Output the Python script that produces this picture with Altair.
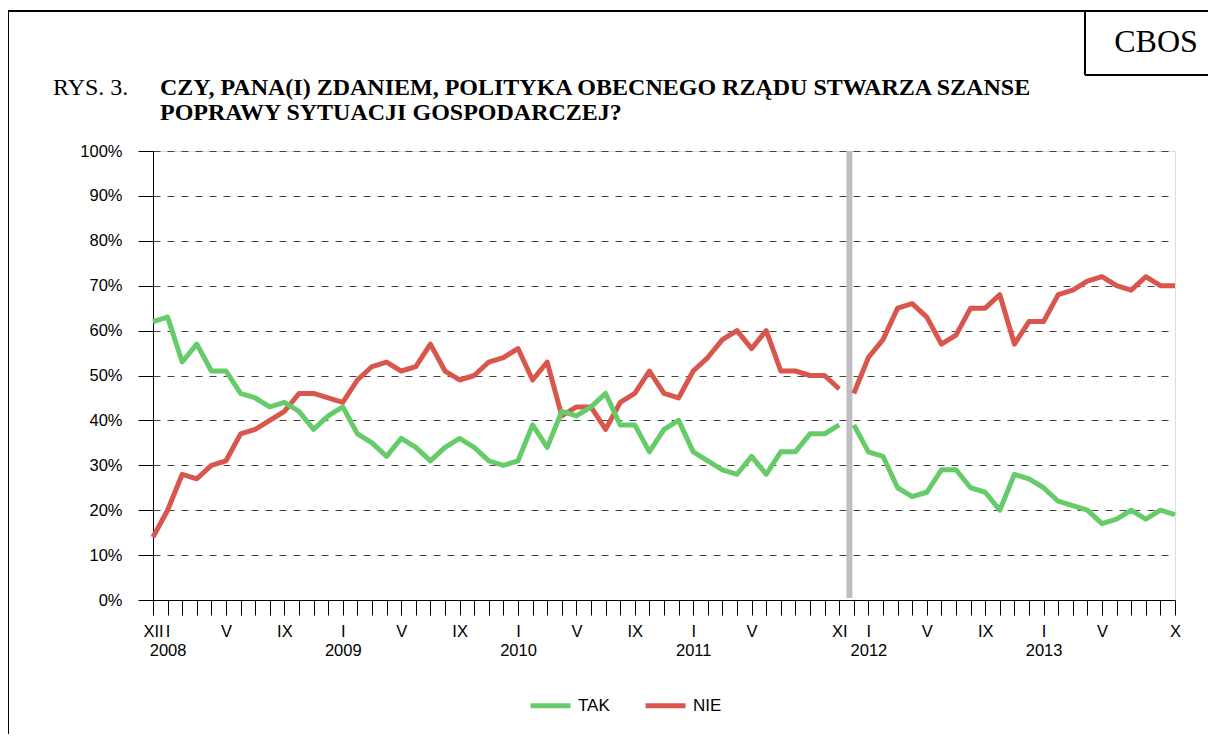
import json
import altair as alt
import pandas as pd

# ---- data ----
months = list(range(71))  # XII 2007 ... X 2013
tak = [62, 63, 53, 57, 51, 51, 46, 45, 43, 44, 42, 38, 41, 43, 37, 35, 32, 36, 34, 31,
       34, 36, 34, 31, 30, 31, 39, 34, 42, 41, 43, 46, 39, 39, 33, 38, 40, 33, 31, 29,
       28, 32, 28, 33, 33, 37, 37, 39, 39, 33, 32, 25, 23, 24, 29, 29, 25, 24, 20, 28,
       27, 25, 22, 21, 20, 17, 18, 20, 18, 20, 19]
nie = [14, 20, 28, 27, 30, 31, 37, 38, 40, 42, 46, 46, 45, 44, 49, 52, 53, 51, 52, 57,
       51, 49, 50, 53, 54, 56, 49, 53, 41, 43, 43, 38, 44, 46, 51, 46, 45, 51, 54, 58,
       60, 56, 60, 51, 51, 50, 50, 47, 46, 54, 58, 65, 66, 63, 57, 59, 65, 65, 68, 57,
       62, 62, 68, 69, 71, 72, 70, 69, 72, 70, 70]
month_names = {0: "XII", 1: "I", 5: "V", 9: "IX", 13: "I", 17: "V", 21: "IX", 25: "I",
               29: "V", 33: "IX", 37: "I", 41: "V", 47: "XI", 49: "I", 53: "V", 57: "IX",
               61: "I", 65: "V", 70: "X"}
year_names = {1: "2008", 13: "2009", 25: "2010", 37: "2011", 49: "2012", 61: "2013"}
series_names = ["TAK", "NIE"]
series_colors = ["#66CC6A", "#D9564C"]
break_after = 47        # last survey of the first government
gov_change = [47.7]     # position of the grey separator
y_ticks = list(range(0, 101, 10))

rows = []
for i in months:
    seg = 0 if i <= break_after else 1
    rows.append({"m": i, "v": tak[i], "s": "TAK", "seg": seg})
    rows.append({"m": i, "v": nie[i], "s": "NIE", "seg": seg})
df = pd.DataFrame(rows)

label_arrays = []
for i in months:
    lab = [month_names.get(i, "")]
    if i in year_names:
        lab.append(year_names[i])
    label_arrays.append(lab)
label_expr = json.dumps(label_arrays) + "[datum.value]"

W, H = 1022, 449
SANS = "Liberation Sans"
SERIF = "Liberation Serif"

x_enc = alt.X("m:Q",
              scale=alt.Scale(domain=[0, 70], nice=False, zero=False),
              axis=alt.Axis(values=months, labelExpr=label_expr, labelOverlap=False,
                            tickSize=15, grid=False, title=None, labelFontSize=16.5,
                            labelFont=SANS, labelColor="black", labelPadding=8,
                            labelBaseline="top", labelLineHeight=19, domainColor="black",
                            tickColor="black", labelFlush=False, labelBound=False))
y_enc = alt.Y("v:Q",
              scale=alt.Scale(domain=[0, 100], nice=False, zero=True),
              axis=alt.Axis(values=y_ticks, labelExpr="datum.value + '%'", tickSize=15,
                            grid=True, gridDash=[7, 7], gridColor="#444444", gridWidth=1,
                            title=None, labelFontSize=16.5, labelFont=SANS,
                            labelColor="black", labelPadding=16, domainColor="black",
                            tickColor="black", labelFlush=False))
color_enc = alt.Color("s:N",
                      scale=alt.Scale(domain=series_names, range=series_colors),
                      legend=alt.Legend(orient="none", legendX=375, legendY=532,
                                        direction="horizontal", title=None,
                                        symbolType="stroke", symbolSize=1600,
                                        symbolStrokeWidth=5, labelFontSize=17,
                                        labelFont=SANS, labelColor="black",
                                        labelOffset=5, columnPadding=25, padding=0))

base = alt.Chart(df)
red = base.transform_filter("datum.s == 'NIE'").mark_line(strokeWidth=5, strokeJoin="round").encode(
    x=x_enc, y=y_enc, color=color_enc, detail="seg:N")
green = base.transform_filter("datum.s == 'TAK'").mark_line(strokeWidth=5, strokeJoin="round").encode(
    x=x_enc, y=y_enc, color=color_enc, detail="seg:N")

sep = alt.Chart(pd.DataFrame({"m": gov_change})).mark_rule(color="#BFBFBF", strokeWidth=6).encode(
    x=x_enc, y=alt.value(0), y2=alt.value(H - 2))

one = alt.Data(values=[{}])

def rule(x, x2, y, y2):
    return alt.Chart(one).mark_rule(color="black", strokeWidth=2).encode(
        x=alt.value(x), x2=alt.value(x2), y=alt.value(y), y2=alt.value(y2))

def text(t, x, y, size, weight="normal", font=SERIF, align="left"):
    return alt.Chart(one).mark_text(font=font, fontSize=size, fontWeight=weight,
                                    align=align, baseline="alphabetic", color="black").encode(
        x=alt.value(x), y=alt.value(y), text=alt.value(t))

frame = [
    rule(-145, -145, -140, 600),
    rule(-145, 1070, -140, -140),
    rule(932, 932, -140, -76),
    rule(932, 1070, -76, -76),
]
texts = [
    text("RYS. 3.", -100, -56, 24),
    text("CZY, PANA(I) ZDANIEM, POLITYKA OBECNEGO RZĄDU STWARZA SZANSE", 7, -56, 24, "bold"),
    text("POPRAWY SYTUACJI GOSPODARCZEJ?", 7, -31, 24, "bold"),
    text("CBOS", 1003, -99, 32, align="center"),
]

chart = alt.layer(sep, red, green, *frame, *texts).properties(
    width=W, height=H,
    autosize=alt.AutoSizeParams(type="none"),
    padding={"left": 145, "top": 143, "right": 33, "bottom": 134},
).configure_view(stroke="black", strokeWidth=1).configure(background="white")

chart.save("out.html", embed_options={"renderer": "svg", "actions": False})
